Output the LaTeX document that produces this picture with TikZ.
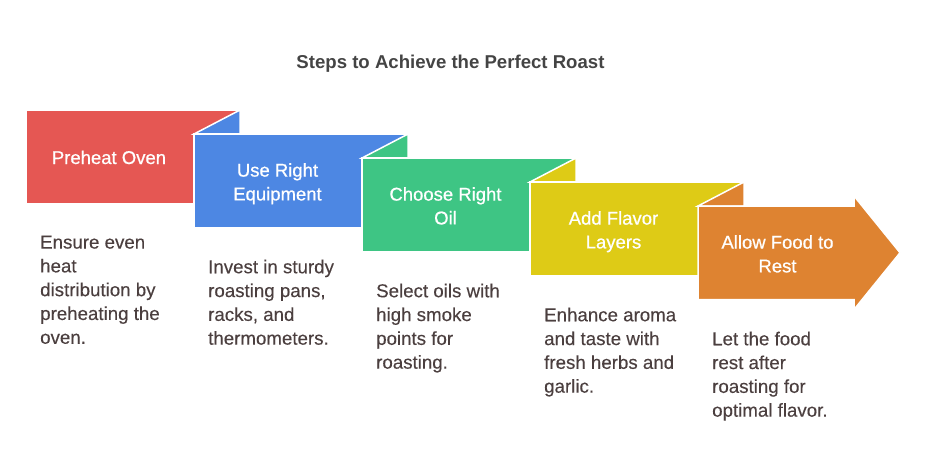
\documentclass[tikz,border=0pt]{standalone}
\usepackage{fontspec}
\setmainfont{Liberation Sans}
\newfontfamily\labfont[FakeBold=0.7]{Liberation Sans}
\newfontfamily\descfont[FakeBold=0.25]{Liberation Sans}
\definecolor{cred}{HTML}{E55753}
\definecolor{cblue}{HTML}{4D87E3}
\definecolor{cgreen}{HTML}{3EC584}
\definecolor{cyellow}{HTML}{DECB16}
\definecolor{corange}{HTML}{DE8331}
\definecolor{desccol}{HTML}{4B3F3F}
\definecolor{titlecol}{HTML}{444444}
\begin{document}
\begin{tikzpicture}[x=1pt,y=-1pt,
  stepshape/.style={draw=white, line width=1.5pt, line join=miter},
  lab/.style={text=white, font=\labfont\fontsize{18.5}{23.8}\selectfont, align=center, inner sep=0pt},
  desc/.style={text=desccol, font=\descfont\fontsize{18.7}{23.8}\selectfont, align=left, inner sep=0pt, anchor=north west},
  ttl/.style={text=titlecol, font=\fontsize{18.6}{22}\selectfont\bfseries, inner sep=0pt, anchor=base}
]
\useasboundingbox (0,0) rectangle (927,471);

% title
\node[ttl] (title) at (450.5,68) {Steps to Achieve the Perfect Roast};

% step 1
\fill[cred, stepshape] (26,110) rectangle (240,203.5);
% step 2
\fill[cblue, stepshape] (194,134) -- (240,110) -- (240,134) -- cycle;
\fill[cblue, stepshape] (194,134) rectangle (408,227.5);
% step 3
\fill[cgreen, stepshape] (362,158) -- (408,134) -- (408,158) -- cycle;
\fill[cgreen, stepshape] (362,158) rectangle (576,251.5);
% step 4
\fill[cyellow, stepshape] (530,182) -- (576,158) -- (576,182) -- cycle;
\fill[cyellow, stepshape] (530,182) rectangle (744,275.5);
% step 5 (arrow)
\fill[corange, stepshape] (698,206) -- (744,182) -- (744,206) -- cycle;
\fill[corange, stepshape] (698,206) -- (854,206) -- (854,196) -- (900,252.75)
  -- (854,309.5) -- (854,299.5) -- (698,299.5) -- cycle;

% labels
\node[lab, anchor=base] (l1) at (109,164) {Preheat Oven};
\node[lab, anchor=north] (l2) at (277.5,163) {Use Right\\Equipment};
\node[lab, anchor=north] (l3) at (445.5,187) {Choose Right\\Oil};
\node[lab, anchor=north] (l4) at (613.5,211) {Add Flavor\\Layers};
\node[lab, anchor=north] (l5) at (777.5,235) {Allow Food to\\Rest};

% descriptions
\node[desc] (d1) at (40,235.5) {Ensure even\\heat\\distribution by\\preheating the\\oven.};
\node[desc] (d2) at (208,259.5) {Invest in sturdy\\roasting pans,\\racks, and\\thermometers.};
\node[desc] (d3) at (376,283.5) {Select oils with\\high smoke\\points for\\roasting.};
\node[desc] (d4) at (544,307.5) {Enhance aroma\\and taste with\\fresh herbs and\\garlic.};
\node[desc] (d5) at (712,331.5) {Let the food\\rest after\\roasting for\\optimal flavor.};
\end{tikzpicture}
\end{document}
